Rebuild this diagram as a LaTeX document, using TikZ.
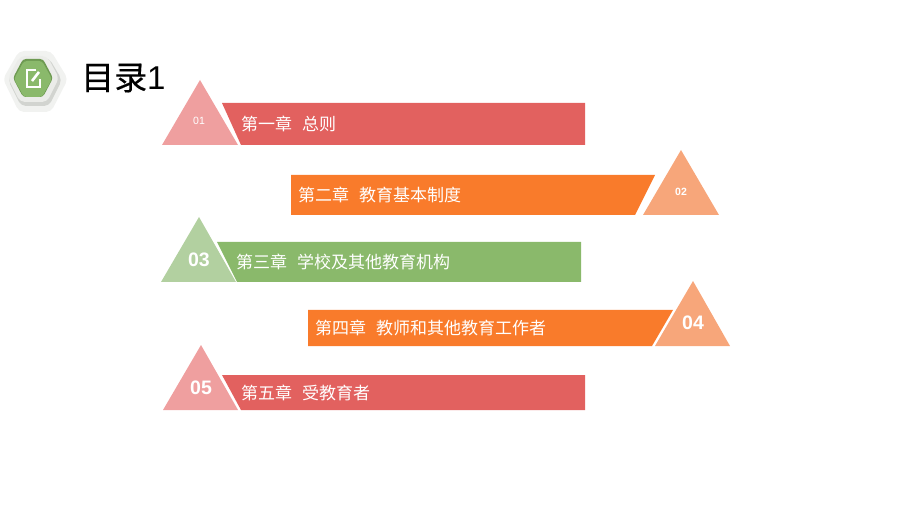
\documentclass[tikz,border=0pt]{standalone}
\usepackage{fontspec}
\setmainfont{Liberation Sans}
\newfontfamily\cjk{Noto Sans CJK SC}
\newfontfamily\titlecjk[FakeBold=0.4]{Noto Sans CJK SC}
\definecolor{barred}{HTML}{E2615F}
\definecolor{tripink}{HTML}{EF9F9F}
\definecolor{barorange}{HTML}{F97B2B}
\definecolor{triorange}{HTML}{F7A67A}
\definecolor{bargreen}{HTML}{8AB96B}
\definecolor{trigreen}{HTML}{B2D0A0}
\definecolor{iconhalo}{HTML}{F1F2F0}
\definecolor{iconshade}{HTML}{D2D4D0}
\definecolor{iconrim}{HTML}{EBECE9}
\definecolor{icontop}{HTML}{6E9A52}
\tikzset{
  barlabel/.style={text=white,anchor=west,inner sep=0pt,font=\fontsize{17}{19}\selectfont\cjk},
  numbig/.style={text=white,inner sep=0pt,font=\fontsize{19.5}{21}\selectfont\bfseries},
  numsmall/.style={text=white,inner sep=0pt,font=\fontsize{10.5}{12}\selectfont\bfseries},
  numthin/.style={text=white,inner sep=0pt,font=\fontsize{10.5}{12}\selectfont},
}
\newcommand{\gapc}{\hspace{10pt}}
\begin{document}
\begin{tikzpicture}[x=1pt,y=-1pt]
\useasboundingbox (0,0) rectangle (920,518);
% icon
\fill[iconhalo,rounded corners=5pt] (3,79) -- (19,51) -- (51,51) -- (68,79) -- (51,112) -- (19,112) -- cycle;
\fill[iconshade,rounded corners=5pt] (8,80) -- (21,58) -- (49,58) -- (62,80) -- (49,106) -- (21,106) -- cycle;
\fill[iconrim,rounded corners=5pt] (8,78) -- (20,56) -- (47,56) -- (59,78) -- (47,102) -- (20,102) -- cycle;
\fill[icontop,rounded corners=3pt] (13,78) -- (23,59) -- (43,59) -- (53,78) -- (43,97) -- (23,97) -- cycle;
\fill[bargreen,rounded corners=3pt] (14,79) -- (24,61) -- (42,61) -- (52,79) -- (42,97) -- (24,97) -- cycle;
\draw[white,line width=1.6pt] (36,70) -- (27,70) -- (27,87) -- (40,87) -- (40,79);
\draw[white,line width=2.6pt] (32,81) -- (39,72);
% title
\node[anchor=west,inner sep=0pt,text=black,font=\fontsize{33}{36}\selectfont] (title) at (81,78) {{\titlecjk 目录}1};
% row 1
\fill[tripink] (200,80) -- (238,145) -- (162,145) -- cycle;
\fill[barred] (222,103) -- (585,103) -- (585,145) -- (241,145) -- cycle;
\node[numthin] (n1) at (199,121) {01};
\node[barlabel] (t1) at (241,124) {第一章\gapc 总则};
% row 2
\fill[triorange] (681,150) -- (719,215) -- (643,215) -- cycle;
\fill[barorange] (291,175) -- (655,175) -- (635,215) -- (291,215) -- cycle;
\node[numsmall] (n2) at (681,192) {02};
\node[barlabel] (t2) at (298,195) {第二章\gapc 教育基本制度};
% row 3
\fill[trigreen] (199,217) -- (236,282) -- (161,282) -- cycle;
\fill[bargreen] (217,242) -- (581,242) -- (581,282) -- (237,282) -- cycle;
\node[numbig] (n3) at (199,260) {03};
\node[barlabel] (t3) at (236,262) {第三章\gapc 学校及其他教育机构};
% row 4
\fill[triorange] (693,281) -- (730,346) -- (655,346) -- cycle;
\fill[barorange] (308,310) -- (673,310) -- (652,346) -- (308,346) -- cycle;
\node[numbig] (n4) at (693,323) {04};
\node[barlabel] (t4) at (315,328) {第四章\gapc 教师和其他教育工作者};
% row 5
\fill[tripink] (201,345) -- (238,410) -- (163,410) -- cycle;
\fill[barred] (222,375) -- (585,375) -- (585,410) -- (241,410) -- cycle;
\node[numbig] (n5) at (201,388) {05};
\node[barlabel] (t5) at (241,393) {第五章\gapc 受教育者};
\end{tikzpicture}
\end{document}
